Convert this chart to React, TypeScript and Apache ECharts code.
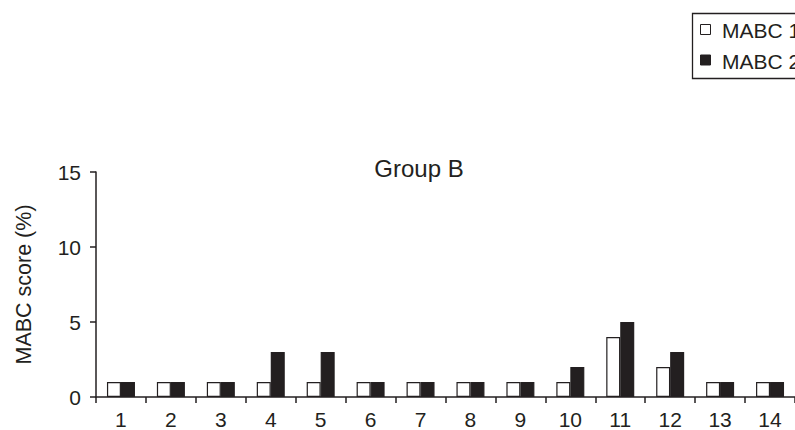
import React, { useEffect, useRef } from "react";
import * as echarts from "echarts";

const categories = ["1", "2", "3", "4", "5", "6", "7", "8", "9", "10", "11", "12", "13", "14"];
const seriesNames = ["MABC 1", "MABC 2"];
const mabc1 = [1, 1, 1, 1, 1, 1, 1, 1, 1, 1, 4, 2, 1, 1];
const mabc2 = [1, 1, 1, 3, 3, 1, 1, 1, 1, 2, 5, 3, 1, 1];
const titleText = "Group B";
const yAxisName = "MABC score (%)";

const FONT = "'Liberation Sans', Arial, Helvetica, sans-serif";
const INK = "#231f20";

export default function App() {
  const ref = useRef<HTMLDivElement>(null);
  useEffect(() => {
    if (!ref.current) return;
    const chart = echarts.init(ref.current, null, { renderer: "svg" });
    chart.setOption({
      animation: false,
      backgroundColor: "#ffffff",
      textStyle: { fontFamily: FONT },
      title: {
        text: titleText,
        left: 414,
        top: 151,
        textAlign: "center",
        textStyle: { fontFamily: FONT, fontSize: 24, fontWeight: "normal", color: INK },
      },
      grid: { left: 96, top: 172, width: 707, height: 227, containLabel: false },
      xAxis: {
        type: "category",
        data: categories,
        boundaryGap: true,
        axisLine: { show: true, lineStyle: { color: INK, width: 1.5 } },
        axisTick: { show: true, alignWithLabel: false, interval: 0, length: 6, lineStyle: { color: INK, width: 1.5 } },
        axisLabel: { interval: 0, margin: 12, fontSize: 21, color: INK, fontFamily: FONT },
        splitLine: { show: false },
      },
      yAxis: {
        type: "value",
        min: 0,
        max: 15,
        interval: 5,
        name: yAxisName,
        nameLocation: "middle",
        nameGap: 61,
        nameTextStyle: { fontSize: 21.5, color: INK, fontFamily: FONT },
        axisLine: { show: true, lineStyle: { color: INK, width: 1.5 } },
        axisTick: { show: true, length: 6, lineStyle: { color: INK, width: 1.5 } },
        axisLabel: { margin: 15, fontSize: 21, color: INK, fontFamily: FONT },
        splitLine: { show: false },
      },
      series: [
        {
          name: seriesNames[0],
          type: "bar",
          data: mabc1,
          barWidth: 14,
          barGap: "0%",
          itemStyle: { color: "#ffffff", borderColor: INK, borderWidth: 1.2 },
        },
        {
          name: seriesNames[1],
          type: "bar",
          data: mabc2,
          barWidth: 14,
          barGap: "0%",
          itemStyle: { color: INK, borderColor: INK, borderWidth: 1.2 },
        },
      ],
      graphic: [
        {
          type: "rect",
          shape: { x: 692.5, y: 13.5, width: 200, height: 65 },
          style: { fill: "#ffffff", stroke: INK, lineWidth: 1.3 },
        },
        {
          type: "rect",
          shape: { x: 700.5, y: 24.5, width: 10, height: 10 },
          style: { fill: "#ffffff", stroke: INK, lineWidth: 1 },
        },
        {
          type: "text",
          x: 722,
          y: 30.5,
          style: { text: seriesNames[0], fontSize: 21, fontFamily: FONT, fill: INK, verticalAlign: "middle", align: "left" },
        },
        {
          type: "rect",
          shape: { x: 700.5, y: 55, width: 10, height: 10 },
          style: { fill: INK, stroke: INK, lineWidth: 1 },
        },
        {
          type: "text",
          x: 722,
          y: 61,
          style: { text: seriesNames[1], fontSize: 21, fontFamily: FONT, fill: INK, verticalAlign: "middle", align: "left" },
        },
      ],
    });
    return () => chart.dispose();
  }, []);
  return (
    <div
      ref={ref}
      style={{ position: "fixed", left: 0, top: 0, width: 795, height: 430, background: "#fff" }}
    />
  );
}
